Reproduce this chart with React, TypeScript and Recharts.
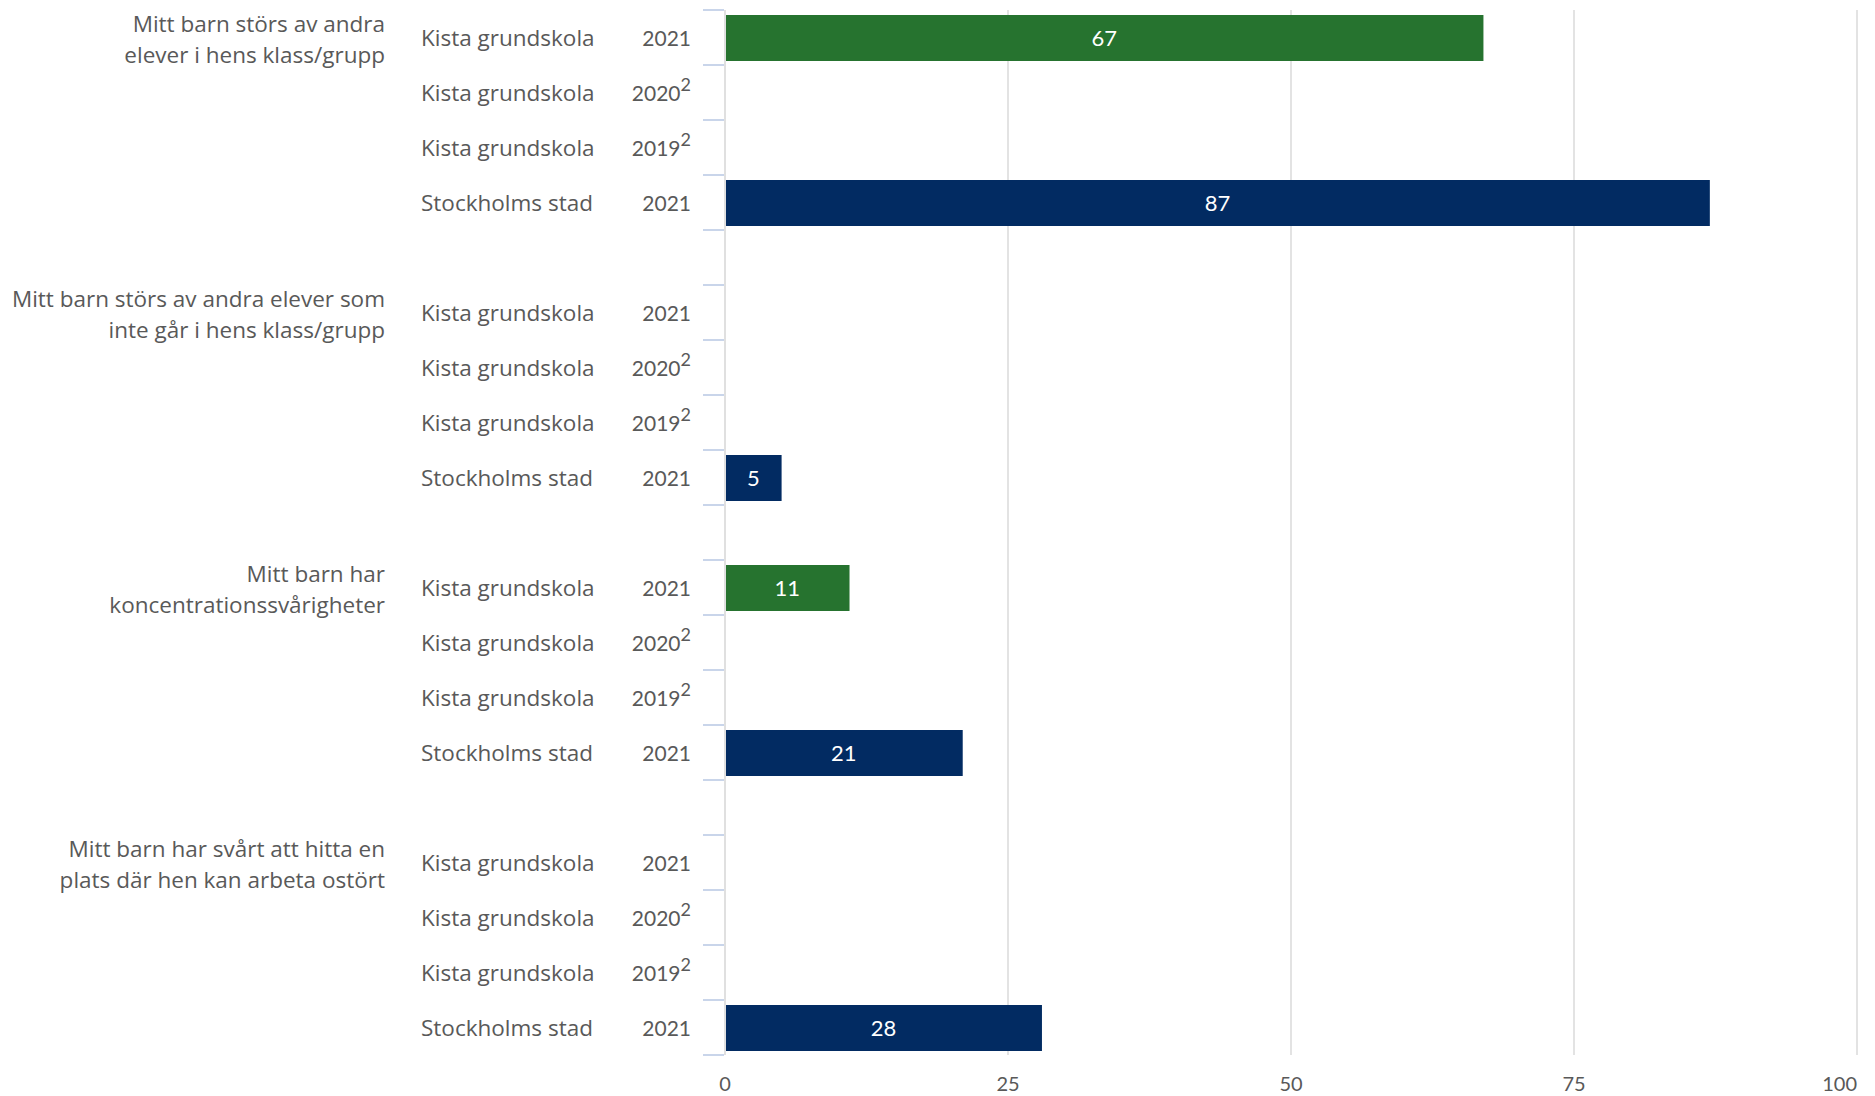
import { BarChart, Bar, XAxis, YAxis, CartesianGrid, Cell, LabelList } from "recharts"

const groupLabels = [
	["Mitt barn störs av andra", "elever i hens klass/grupp"],
	["Mitt barn störs av andra elever som", "inte går i hens klass/grupp"],
	["Mitt barn har", "koncentrationssvårigheter"],
	["Mitt barn har svårt att hitta en", "plats där hen kan arbeta ostört"],
]

const rowSources = ["Kista grundskola", "Kista grundskola", "Kista grundskola", "Stockholms stad"]
const rowYears = ["2021", "2020", "2019", "2021"]
const rowNotes = ["", "2", "2", ""]

// one value per group
const kista2021 = [67, null, 11, null]
const kista2020 = [null, null, null, null]
const kista2019 = [null, null, null, null]
const stockholm2021 = [87, 5, 21, 28]

const xTicks = [0, 25, 50, 75, 100]

const GREEN = "#26732f"
const NAVY = "#022b62"
const TEXT = "#595959"
const WORD_FONT = "'Open Sans', sans-serif"
const WORD_SIZE = 22.5

const W = 1875
const H = 1096
const TOP = 10
const XAXIS_H = 41
const LEFT = 725

type Row = {
	id: string
	group: number
	first: boolean
	source: string
	year: string
	note: string
	value: number | null
	color: string
}

const seriesByRow = [kista2021, kista2020, kista2019, stockholm2021]

const rows: Row[] = []
groupLabels.forEach((_, g) => {
	if (g > 0) {
		rows.push({ id: "gap" + g, group: -1, first: false, source: "", year: "", note: "", value: null, color: NAVY })
	}
	rowSources.forEach((source, r) => {
		rows.push({
			id: g + "-" + r,
			group: g,
			first: r === 0,
			source,
			year: rowYears[r],
			note: rowNotes[r],
			value: seriesByRow[r][g],
			color: source === "Stockholms stad" ? NAVY : GREEN,
		})
	})
})

const ROW_H = (H - TOP - XAXIS_H) / rows.length

const CategoryTick = (props: any) => {
	const { y, index } = props
	const row = rows[index]
	if (!row) return null
	const top = y - ROW_H / 2
	const bottom = y + ROW_H / 2
	return (
		<g>
			<line x1={703} x2={LEFT - 1} y1={top} y2={top} stroke="#c9d5ea" strokeWidth={2} />
			<line x1={703} x2={LEFT - 1} y1={bottom} y2={bottom} stroke="#c9d5ea" strokeWidth={2} />
			{row.first && (
				<text x={385} y={top + 13} textAnchor="end" dominantBaseline="central" fill={TEXT} fontSize={WORD_SIZE} fontFamily={WORD_FONT}>
					{groupLabels[row.group][0]}
				</text>
			)}
			{row.first && (
				<text x={385} y={top + 44} textAnchor="end" dominantBaseline="central" fill={TEXT} fontSize={WORD_SIZE} fontFamily={WORD_FONT}>
					{groupLabels[row.group][1]}
				</text>
			)}
			{row.source && (
				<text x={421} y={y} dominantBaseline="central" fill={TEXT} fontSize={WORD_SIZE} fontFamily={WORD_FONT}>
					{row.source}
				</text>
			)}
			{row.year && (
				<text x={691} y={y} textAnchor="end" dominantBaseline="central" fill={TEXT} fontSize={21}>
					{row.year}
					{row.note && (
						<tspan dy={-9} fontSize={18}>
							{row.note}
						</tspan>
					)}
				</text>
			)}
		</g>
	)
}

const ValueTick = (props: any) => {
	const { x, y, payload, index } = props
	const last = index === xTicks.length - 1
	return (
		<text x={x} y={y + 20} textAnchor={last ? "end" : "middle"} dominantBaseline="central" fill={TEXT} fontSize={20}>
			{payload.value}
		</text>
	)
}

const App = () => {
	return (
		<div style={{ position: "absolute", left: 0, top: 0, fontFamily: "Lato, sans-serif" }}>
			<BarChart
				width={W}
				height={H}
				data={rows}
				layout="vertical"
				margin={{ top: TOP, right: W - 1857, bottom: 0, left: 0 }}
			>
				<CartesianGrid horizontal={false} stroke="#e3e3e3" strokeWidth={2} />
				<XAxis
					type="number"
					domain={[0, 100]}
					ticks={xTicks}
					axisLine={false}
					tickLine={false}
					height={XAXIS_H}
					tick={<ValueTick />}
					interval={0}
				/>
				<YAxis
					type="category"
					dataKey="id"
					width={LEFT}
					interval={0}
					tickLine={false}
					axisLine={{ stroke: "#e0e0e0", strokeWidth: 2 }}
					tick={<CategoryTick />}
				/>
				<Bar dataKey="value" barSize={46} isAnimationActive={false}>
					{rows.map((r) => (
						<Cell key={r.id} fill={r.color} />
					))}
					<LabelList dataKey="value" position="center" fill="#ffffff" fontSize={22} />
				</Bar>
			</BarChart>
		</div>
	)
}

export default App
